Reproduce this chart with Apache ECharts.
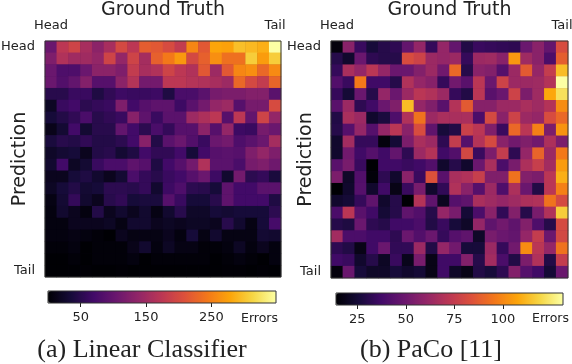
<!DOCTYPE html>
<html>
<head>
<meta charset="utf-8">
<title>Confusion heatmaps</title>
<script src="https://cdn.jsdelivr.net/npm/echarts@6/dist/echarts.min.js"></script>
<style>
  html, body { margin: 0; background: #fff; }
  #chart { width: 572px; height: 364px; }
</style>
</head>
<body>
<div id="chart"></div>
<script>
// classes, head to tail (only both ends get a label)
const classes = ['Head', '', '', '', '', '', '', '', '', '', '', '', '', '', '', '', '', '', '', 'Tail'];

// (a) errors per cell, one row per predicted class
const linearRows = [
  [105,175,192,157,133,157,199,175,220,216,202,181,255,216,279,276,297,293,286,349],
  [122,164,150,150,140,192,140,192,154,223,244,269,199,223,262,237,237,307,272,307],
  [105,80,80,105,133,133,122,181,157,164,192,175,164,216,147,216,255,262,230,258],
  [105,84,98,126,87,87,133,168,112,112,175,175,168,164,157,147,230,199,181,227],
  [49,49,63,63,42,56,66,63,63,66,42,77,77,91,115,119,119,126,126,91],
  [21,63,70,52,59,63,122,70,87,94,94,66,91,112,140,147,87,115,115,202],
  [35,45,56,77,49,56,63,129,94,63,91,91,147,161,175,87,175,98,192,140],
  [14,31,70,31,49,49,98,70,52,77,59,87,87,133,87,140,66,63,115,105],
  [38,49,45,56,45,45,52,70,129,45,91,105,84,63,105,112,80,91,105,154],
  [24,31,35,17,45,49,31,42,70,56,56,70,35,70,87,91,87,122,140,122],
  [28,70,21,31,63,77,77,94,87,42,70,87,112,164,91,91,77,115,122,108],
  [17,17,35,42,28,17,31,77,59,49,63,70,87,105,66,28,112,52,59,38],
  [21,35,45,31,35,52,52,49,59,28,66,80,52,49,35,94,70,70,91,91],
  [10,31,59,28,17,49,56,35,38,38,87,63,35,35,49,94,70,70,70,42],
  [7,28,17,7,45,17,28,17,28,10,28,49,24,24,35,31,35,35,35,52],
  [7,7,17,17,17,21,10,28,28,17,21,17,21,21,17,49,28,10,35,73],
  [7,7,10,7,3,0,17,10,10,10,17,7,35,10,28,10,10,10,31,28],
  [3,3,7,0,3,3,3,14,28,7,21,10,10,3,3,7,21,7,17,7],
  [0,0,3,0,3,3,3,7,0,3,3,3,3,3,0,3,7,3,0,7],
  [0,0,0,1,0,0,1,0,0,0,0,0,0,0,0,1,1,0,1,0]
];

// (b) errors per cell
const pacoRows = [
  [16,58,35,26,30,32,47,61,34,61,47,29,35,34,33,32,49,58,47,82],
  [30,23,49,32,30,30,82,78,63,61,63,34,63,64,58,104,64,58,40,88],
  [34,67,61,72,61,49,49,56,63,51,91,30,58,56,43,63,87,61,75,113],
  [42,35,96,37,37,30,69,61,57,34,51,44,72,49,78,63,63,64,70,131],
  [34,25,49,30,61,49,63,72,69,63,34,29,72,44,49,78,54,64,108,122],
  [44,63,32,37,49,55,113,61,55,44,70,87,57,57,63,63,67,64,70,101],
  [29,67,63,23,27,41,69,94,63,67,67,67,40,81,58,78,63,61,82,91],
  [30,43,61,43,61,72,58,82,46,26,29,77,72,55,35,91,72,98,54,103],
  [23,65,34,34,16,25,54,67,63,32,75,43,70,81,58,51,55,51,68,54],
  [23,51,37,43,37,47,32,63,70,37,42,80,35,54,75,32,61,90,63,96],
  [44,53,35,14,37,37,35,37,42,23,30,23,49,67,40,53,68,76,65,105],
  [54,22,42,15,32,23,58,35,84,44,67,69,76,55,55,94,56,54,72,110],
  [14,23,43,23,37,18,35,53,23,33,69,58,43,63,41,68,49,29,72,98],
  [23,25,34,46,23,30,14,70,46,20,43,46,67,64,61,64,68,69,94,81],
  [40,72,44,37,25,30,46,42,30,61,53,25,40,58,33,56,30,53,69,117],
  [30,28,49,32,30,37,37,40,29,35,26,22,61,46,51,46,56,41,30,81],
  [65,40,40,37,37,32,49,42,49,34,43,46,22,53,49,47,61,75,49,80],
  [32,29,18,37,49,33,33,63,29,61,51,26,26,63,34,51,101,72,61,94],
  [37,35,23,30,21,35,19,53,18,37,37,56,30,65,40,29,54,69,29,75],
  [16,49,26,22,22,26,23,25,18,37,22,18,29,26,32,56,43,37,25,49]
];

const linearTicks = [50, 150, 250];
const pacoTicks = [25, 50, 75, 100];
const linearRange = [0, 349];
const pacoRange = [14, 131];

// inferno colormap
const inferno = ['#000004', '#160b39', '#420a68', '#6a176e', '#932667', '#bc3754',
                 '#dd513a', '#f37819', '#fca50a', '#f6d746', '#fcffa4'];

const FONT = '"DejaVu Sans", sans-serif';
const INK = '#222';

// rows -> [col, row, value]
function toCells(rows) {
  const cells = [];
  rows.forEach((row, r) => row.forEach((v, c) => cells.push([c, r, v])));
  return cells;
}

// only the first and last class get a tick
const endsOnly = i => i === 0 || i === classes.length - 1;

const panels = [
  { left: 45, top: 41, size: 236, under: '#1c0c3a', barLeft: 48, barTop: 291, barWidth: 228, rows: linearRows, range: linearRange, ticks: linearTicks, errorsX: 241, caption: '(a) Linear Classifier', capX: 142 },
  { left: 331, top: 41, size: 237, under: '#5e1370', barLeft: 336, barTop: 293, barWidth: 227, rows: pacoRows, range: pacoRange, ticks: pacoTicks, errorsX: 532, caption: '(b) PaCo [11]', capX: 431 }
];

const option = {
  animation: false,
  textStyle: { fontFamily: FONT },
  grid: [], xAxis: [], yAxis: [], series: [], visualMap: [], title: []
};

panels.forEach((p, i) => {
  const heatIdx = i * 2, barIdx = i * 2 + 1;

  // heatmap; dark underlay so seams between the cells stay quiet
  option.grid.push({
    left: p.left, top: p.top, width: p.size, height: p.size,
    outerBoundsMode: 'none', containLabel: false,
    show: true, backgroundColor: p.under, borderWidth: 0
  });
  option.xAxis.push({
    gridIndex: heatIdx, type: 'category', position: 'top', data: classes,
    name: 'Ground Truth', nameLocation: 'middle', nameGap: 21, nameMoveOverlap: false,
    nameTextStyle: { fontSize: 19, color: INK, fontFamily: FONT },
    axisLine: { show: false },
    axisTick: { alignWithLabel: true, interval: endsOnly, length: 4, lineStyle: { color: INK } },
    axisLabel: { interval: 0, fontSize: 13, color: INK, margin: 9, hideOverlap: false },
    splitLine: { show: false }
  });
  option.yAxis.push({
    gridIndex: heatIdx, type: 'category', inverse: true, data: classes,
    name: 'Prediction', nameLocation: 'middle', nameGap: 15, nameMoveOverlap: false,
    nameTextStyle: { fontSize: 19, color: INK, fontFamily: FONT },
    axisLine: { show: false },
    axisTick: { alignWithLabel: true, interval: endsOnly, length: 4, lineStyle: { color: INK } },
    axisLabel: { interval: 0, fontSize: 13, color: INK, margin: 10 },
    splitLine: { show: false }
  });
  option.series.push({
    type: 'heatmap', xAxisIndex: heatIdx, yAxisIndex: heatIdx,
    data: toCells(p.rows), progressive: 0, itemStyle: { borderWidth: 0 },
    emphasis: { disabled: true }
  });

  // colorbar: visualMap draws the ramp, an empty grid carries the ticks
  option.grid.push({
    left: p.barLeft, top: p.barTop, width: p.barWidth, height: 12,
    outerBoundsMode: 'none', containLabel: false,
    show: true, z: 5, backgroundColor: 'transparent', borderColor: '#333', borderWidth: 1
  });
  option.xAxis.push({
    gridIndex: barIdx, type: 'value', min: p.range[0], max: p.range[1],
    axisLine: { show: false }, splitLine: { show: false },
    axisTick: { show: true, length: 4, customValues: p.ticks, lineStyle: { color: INK } },
    axisLabel: { fontSize: 13, color: INK, margin: 8, customValues: p.ticks }
  });
  option.yAxis.push({ gridIndex: barIdx, type: 'value', show: false, min: 0, max: 1 });
  option.series.push({ type: 'scatter', xAxisIndex: barIdx, yAxisIndex: barIdx, data: [], silent: true });

  option.visualMap.push({
    type: 'continuous', seriesIndex: heatIdx, min: p.range[0], max: p.range[1],
    orient: 'horizontal', left: p.barLeft, top: p.barTop, padding: 0,
    itemWidth: 12, itemHeight: p.barWidth, text: null, calculable: false, hoverLink: false,
    showLabel: false, inRange: { color: inferno }
  });

  // "Errors" beside the ticks, caption below
  option.title.push({
    text: 'Errors', left: p.errorsX, top: 312, padding: 0,
    textStyle: { fontSize: 12.5, fontWeight: 'normal', color: INK, fontFamily: FONT }
  });
  option.title.push({
    text: p.caption, left: p.capX, top: 337, textAlign: 'center', padding: 0,
    textStyle: { fontSize: 26, fontWeight: 'normal', color: INK, fontFamily: '"Liberation Serif", serif' }
  });
});

// heatmap frames go on top of the cells, in grids of their own
panels.forEach(p => {
  option.grid.push({
    left: p.left, top: p.top, width: p.size, height: p.size,
    outerBoundsMode: 'none', containLabel: false,
    show: true, z: 5, backgroundColor: 'transparent', borderColor: '#333', borderWidth: 1
  });
});

const chart = echarts.init(document.getElementById('chart'), null, { width: 572, height: 364 });
chart.setOption(option);
</script>
</body>
</html>
